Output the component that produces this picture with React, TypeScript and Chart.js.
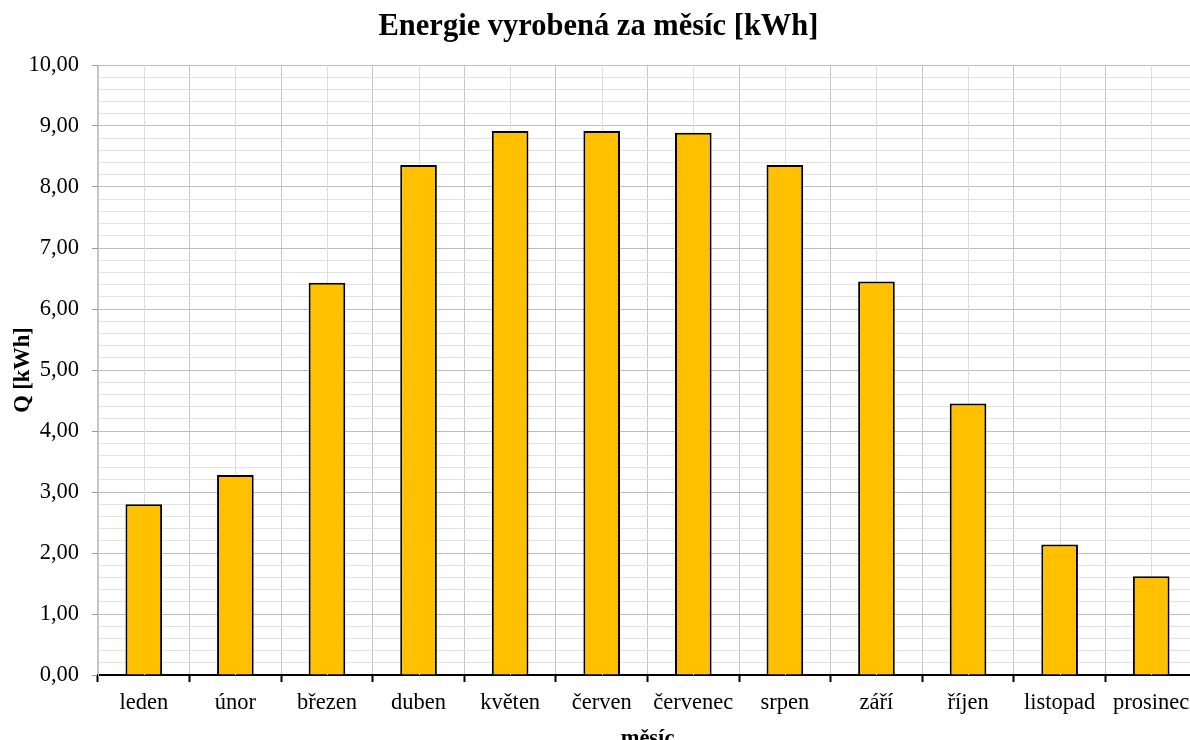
import React, { useEffect, useRef } from "react";
import { Chart, registerables } from "chart.js";

Chart.register(...registerables);

// Monthly energy produced (kWh)
const months = [
  "leden",
  "únor",
  "březen",
  "duben",
  "květen",
  "červen",
  "červenec",
  "srpen",
  "září",
  "říjen",
  "listopad",
  "prosinec",
];
const energyKWh = [2.8, 3.28, 6.43, 8.36, 8.92, 8.92, 8.89, 8.36, 6.45, 4.45, 2.14, 1.62];

const yMin = 0;
const yMax = 10;
const yMinorStep = 0.2;

const chartTitle = "Energie vyrobená za měsíc [kWh]";
const yTitle = "Q [kWh]";
const xTitle = "měsíc";

const FONT = "'Liberation Serif', 'Times New Roman', serif";
const CANVAS_W = 1210;
const CANVAS_H = 760;

const isWhole = (v: number) => Math.abs(v - Math.round(v)) < 1e-6;

// Light vertical lines through each category centre, drawn under the bars
const centerLines = {
  id: "centerLines",
  beforeDatasetsDraw(chart: any) {
    const { ctx, chartArea, scales } = chart;
    const x = scales.x;
    ctx.save();
    ctx.strokeStyle = "#dedede";
    ctx.lineWidth = 1;
    for (let i = 0; i < months.length; i++) {
      const px = Math.round(x.getPixelForValue(i)) + 0.5;
      ctx.beginPath();
      ctx.moveTo(px, chartArea.top);
      ctx.lineTo(px, chartArea.bottom);
      ctx.stroke();
    }
    ctx.restore();
  },
};

export default function App() {
  const canvasRef = useRef<HTMLCanvasElement | null>(null);

  useEffect(() => {
    if (!canvasRef.current) return;
    const chart = new Chart(canvasRef.current, {
      type: "bar",
      data: {
        labels: months,
        datasets: [
          {
            data: energyKWh,
            backgroundColor: "#FFC000",
            borderColor: "#000000",
            borderWidth: 2,
            barPercentage: 0.4,
            categoryPercentage: 1,
          },
        ],
      },
      options: {
        responsive: false,
        animation: false,
        devicePixelRatio: 1,
        layout: { padding: { left: 0, top: 0, right: 13, bottom: 0 } },
        plugins: {
          legend: { display: false },
          tooltip: { enabled: false },
          title: {
            display: true,
            text: chartTitle,
            color: "#000",
            font: { family: FONT, size: 30.5, weight: "bold" },
            padding: { top: 9, bottom: 19.4 },
          },
        },
        scales: {
          x: {
            offset: true,
            grid: {
              offset: true,
              color: "#c6c6c6",
              lineWidth: 1,
              tickColor: "#000",
              tickLength: 7,
              tickWidth: 2,
            },
            border: { color: "#000", width: 2 },
            ticks: {
              color: "#000",
              font: { family: FONT, size: 22.5 },
              padding: 8,
              maxRotation: 0,
              autoSkip: false,
            },
            title: {
              display: true,
              text: xTitle,
              color: "#000",
              font: { family: FONT, size: 22.5, weight: "bold" },
              padding: { top: 0, bottom: 7 },
            },
            afterFit: (scale: any) => {
              scale.height = 85;
            },
          },
          y: {
            min: yMin,
            max: yMax,
            grid: {
              color: (ctx: any) => (isWhole(ctx.tick.value) ? "#bdbdbd" : "#e2e2e2"),
              tickColor: (ctx: any) => (isWhole(ctx.tick.value) ? "#9a9a9a" : "rgba(0,0,0,0)"),
              tickLength: 6,
            },
            border: { color: "#c6c6c6", width: 1 },
            ticks: {
              stepSize: yMinorStep,
              autoSkip: false,
              color: "#000",
              font: { family: FONT, size: 22.5 },
              padding: 13,
              callback: (v: any) => {
                const n = Number(v);
                return isWhole(n) ? n.toFixed(2).replace(".", ",") : "";
              },
            },
            title: {
              display: true,
              text: yTitle,
              color: "#000",
              font: { family: FONT, size: 22.5, weight: "bold" },
              padding: { top: 10, bottom: 0 },
            },
            afterFit: (scale: any) => {
              scale.width = 98;
            },
          },
        },
      },
      plugins: [centerLines],
    });
    return () => chart.destroy();
  }, []);

  return (
    <div
      style={{
        position: "fixed",
        left: 0,
        top: 0,
        width: 1190,
        height: 740,
        overflow: "hidden",
        background: "#fff",
      }}
    >
      <canvas
        ref={canvasRef}
        width={CANVAS_W}
        height={CANVAS_H}
        style={{ display: "block", width: CANVAS_W, height: CANVAS_H }}
      />
    </div>
  );
}
